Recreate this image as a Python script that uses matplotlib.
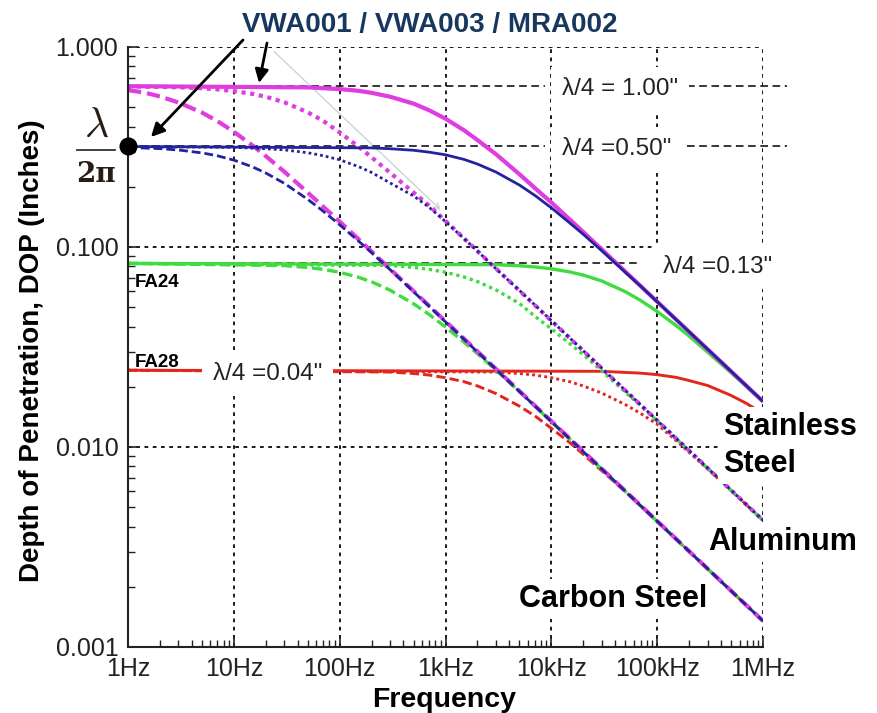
import matplotlib
matplotlib.use("Agg")
import matplotlib.pyplot as plt
from matplotlib.lines import Line2D
from matplotlib.patches import FancyArrowPatch
from matplotlib.ticker import NullFormatter

plt.rcParams["font.family"] = ["Liberation Sans", "DejaVu Sans"]
plt.rcParams["mathtext.fontset"] = "cm"

# ---------------------------------------------------------------- data
# quarter-wave sensor sizes (inches) and the plateau depth lambda/(2*pi)
quarter_wave = [1.00, 0.50, 0.13, 0.04]
quarter_labels = ['λ/4 = 1.00"', 'λ/4 =0.50"', 'λ/4 =0.13"', 'λ/4 =0.04"']

# Stainless steel (solid)
ss_mag_f = [1, 50, 100, 150, 200, 300, 500, 700, 1e3, 1.5e3, 2e3, 3e3, 5e3, 7e3, 1e4, 1.5e4, 2e4, 1e6]
ss_mag_v = [0.637, 0.628, 0.616, 0.604, 0.590, 0.564, 0.521, 0.483, 0.438, 0.383, 0.343, 0.291,
            0.231, 0.197, 0.167, 0.137, 0.119, 0.0169]
ss_blu_f = [1, 200, 300, 500, 700, 1e3, 1.5e3, 2e3, 3e3, 5e3, 7e3, 1e4, 1.5e4, 2e4, 3e4, 5e4, 7e4, 1e6]
ss_blu_v = [0.318, 0.313, 0.310, 0.3045, 0.298, 0.289, 0.274, 0.260, 0.237, 0.204, 0.181, 0.157,
            0.1316, 0.1158, 0.0957, 0.0747, 0.0636, 0.0169]
ss_grn_f = [1, 3e3, 5e3, 7e3, 1e4, 1.5e4, 2e4, 3e4, 5e4, 7e4, 1e5, 1.5e5, 2e5, 3e5, 5e5, 7e5, 1e6]
ss_grn_v = [0.0828, 0.0816, 0.0806, 0.0795, 0.0778, 0.0750, 0.0724, 0.0676, 0.0598, 0.0540,
            0.0476, 0.0406, 0.0359, 0.0298, 0.0235, 0.0200, 0.0168]
ss_red_f = [1, 3e4, 5e4, 7e4, 1e5, 1.5e5, 2e5, 3e5, 5e5, 7e5, 1e6]
ss_red_v = [0.0242, 0.0239, 0.0236, 0.0234, 0.0230, 0.0223, 0.0215, 0.0203, 0.0181, 0.0165, 0.0147]

# Aluminum (dotted)
al_mag_f = [1, 3, 5, 7, 10, 15, 20, 30, 50, 70, 100, 150, 200, 300, 500, 700, 1e3, 1e6]
al_mag_v = [0.635, 0.629, 0.622, 0.614, 0.602, 0.583, 0.564, 0.529, 0.471, 0.427, 0.374, 0.318,
            0.281, 0.235, 0.187, 0.161, 0.135, 0.0043]
al_blu_f = [1, 10, 20, 30, 50, 70, 100, 150, 200, 300, 500, 700, 1e3, 1.5e3, 2e3, 3e3, 5e3, 1e6]
al_blu_v = [0.318, 0.315, 0.310, 0.306, 0.296, 0.286, 0.273, 0.2525, 0.236, 0.209, 0.180, 0.158,
            0.134, 0.110, 0.0955, 0.0778, 0.0606, 0.0043]
al_grn_f = [1, 300, 500, 700, 1e3, 1.5e3, 2e3, 3e3, 5e3, 7e3, 1e4, 1.5e4, 2e4, 3e4, 5e4, 7e4, 1e6]
al_grn_v = [0.0828, 0.0808, 0.0791, 0.0773, 0.0748, 0.0708, 0.0672, 0.0610, 0.0522, 0.0450,
            0.0390, 0.0328, 0.0290, 0.0240, 0.0188, 0.0161, 0.0043]
al_red_f = [1, 3e3, 5e3, 7e3, 1e4, 1.5e4, 2e4, 3e4, 5e4, 7e4, 1e5, 1.5e5, 2e5, 3e5, 5e5, 1e6]
al_red_v = [0.0242, 0.0237, 0.0233, 0.0229, 0.0222, 0.0212, 0.0202, 0.0186, 0.0163, 0.0147,
            0.0130, 0.0108, 0.0094, 0.00776, 0.00605, 0.0043]

# Carbon steel (dashed)
cs_mag_f = [1, 1.5, 2, 3, 5, 7, 10, 15, 20, 30, 50, 70, 100, 150, 1e6]
cs_mag_v = [0.610, 0.588, 0.566, 0.528, 0.470, 0.426, 0.377, 0.322, 0.285, 0.238, 0.187, 0.159,
            0.134, 0.1097, 0.00135]
cs_blu_f = [1, 2, 3, 5, 7, 10, 15, 20, 30, 50, 70, 100, 150, 200, 300, 1e6]
cs_blu_v = [0.3147, 0.3103, 0.3055, 0.2955, 0.2858, 0.2719, 0.2516, 0.2346, 0.2081, 0.1730,
            0.1509, 0.1292, 0.1073, 0.0937, 0.0770, 0.00135]
cs_grn_f = [1, 30, 50, 70, 100, 150, 200, 300, 500, 700, 1e3, 1.5e3, 2e3, 3e3, 5e3, 1e6]
cs_grn_v = [0.0828, 0.0807, 0.0790, 0.0773, 0.0747, 0.0706, 0.0670, 0.0608, 0.0520, 0.0460,
            0.0398, 0.0334, 0.0293, 0.0242, 0.0189, 0.00135]
cs_red_f = [1, 300, 500, 700, 1e3, 1.5e3, 2e3, 3e3, 5e3, 7e3, 1e4, 1.5e4, 2e4, 3e4, 5e4, 1e6]
cs_red_v = [0.0242, 0.0237, 0.0233, 0.0229, 0.0222, 0.0212, 0.0202, 0.0185, 0.0160, 0.0143,
            0.0124, 0.0105, 0.0092, 0.0076, 0.00598, 0.00135]

x_ticks = [1, 10, 100, 1e3, 1e4, 1e5, 1e6]
x_tick_labels = ["1Hz", "10Hz", "100Hz", "1kHz", "10kHz", "100kHz", "1MHz"]
y_ticks = [0.001, 0.01, 0.1, 1.0]
y_tick_labels = ["0.001", "0.010", "0.100", "1.000"]

# ---------------------------------------------------------------- figure
W, H = 877, 713
fig = plt.figure(figsize=(W / 100, H / 100), dpi=100)
ax = fig.add_axes([128 / W, 1 - 647 / H, (763 - 128) / W, (647 - 47) / H])


def fpx(x, y):
    """top-left pixel position -> figure fraction"""
    return x / W, 1 - y / H


ax.set_xscale("log")
ax.set_yscale("log")
ax.set_xlim(1, 1e6)
ax.set_ylim(1e-3, 1.0)

for side in ("top", "right"):
    ax.spines[side].set_visible(False)
for side in ("left", "bottom"):
    ax.spines[side].set_linewidth(1.5)
    ax.spines[side].set_color("#222222")
    ax.spines[side].set_zorder(5)

ax.set_axisbelow(True)
ax.grid(True, which="major", color="#111111", lw=1.35, ls=(0, (2.0, 2.4)))
ax.grid(False, which="minor")

ax.set_xticks(x_ticks)
ax.set_xticklabels(x_tick_labels)
ax.set_yticks(y_ticks)
ax.set_yticklabels(y_tick_labels)
ax.xaxis.set_minor_formatter(NullFormatter())
ax.yaxis.set_minor_formatter(NullFormatter())
ax.tick_params(which="both", direction="in", top=False, right=False, colors="#222222")
ax.tick_params(which="major", length=8, width=1.2, labelsize=18)
ax.tick_params(which="minor", length=5, width=1.0)
ax.tick_params(axis="y", which="major", pad=7)
ax.tick_params(axis="x", which="major", pad=7)

# ---------------------------------------------------------------- reference dashes
plateau = [4 * q / (2 * 3.141592653589793) for q in quarter_wave]
ref_kw = dict(color="black", lw=1.1, ls=(0, (5, 3)), zorder=2, clip_on=False)
ax.plot([1, 8.7e3], [plateau[0]] * 2, **ref_kw)
ax.plot([1.9e5, 1.67e6], [plateau[0]] * 2, **ref_kw)
ax.plot([1, 8.7e3], [plateau[1]] * 2, **ref_kw)
ax.plot([1.9e5, 1.67e6], [plateau[1]] * 2, **ref_kw)
ax.plot([1, 6.4e4], [plateau[2]] * 2, **ref_kw)

# faint guide along the aluminum skin-depth slope
ax.annotate("", xy=(940, 0.15), xytext=(23, 0.97),
            arrowprops=dict(arrowstyle="->", color="#c3d2d6", lw=0.9), zorder=1)

# ---------------------------------------------------------------- curves
C_MAG, C_BLU, C_GRN, C_RED = "#e03de0", "#23239f", "#3fdc3f", "#e2261e"
LW = {C_RED: 2.1, C_GRN: 2.4, C_MAG: 3.0, C_BLU: 2.0}
SOLID = "-"
DOTTED = (0, (1.0, 1.1))
DASHED = (0, (3.2, 1.4))

series = [
    (ss_red_f, ss_red_v, C_RED, SOLID), (ss_grn_f, ss_grn_v, C_GRN, SOLID),
    (al_red_f, al_red_v, C_RED, DOTTED), (al_grn_f, al_grn_v, C_GRN, DOTTED),
    (cs_red_f, cs_red_v, C_RED, DASHED), (cs_grn_f, cs_grn_v, C_GRN, DASHED),
    (ss_mag_f, ss_mag_v, C_MAG, SOLID), (al_mag_f, al_mag_v, C_MAG, DOTTED),
    (cs_mag_f, cs_mag_v, C_MAG, DASHED),
    (ss_blu_f, ss_blu_v, C_BLU, SOLID), (al_blu_f, al_blu_v, C_BLU, DOTTED),
    (cs_blu_f, cs_blu_v, C_BLU, DASHED),
]
for f, v, c, ls in series:
    ax.plot(f, v, color=c, lw=LW[c], ls=ls, zorder=3, solid_capstyle="butt")

# lambda / 2pi marker on the left axis
ax.plot([1], [plateau[1]], "o", ms=12, color="black", clip_on=False, zorder=7)

# ---------------------------------------------------------------- annotations
fig.text(*fpx(430, 32), "VWA001 / VWA003 / MRA002", ha="center", va="baseline",
         fontsize=20, weight="bold", color="#17375e")

arrow_kw = dict(arrowstyle="-|>", color="black", lw=2.0, mutation_scale=20,
                shrinkA=0, shrinkB=0)
fig.add_artist(FancyArrowPatch(fpx(243, 40), fpx(151, 137),
                               transform=fig.transFigure, **arrow_kw))
fig.add_artist(FancyArrowPatch(fpx(267, 43), fpx(259, 83),
                               transform=fig.transFigure, **arrow_kw))

fig.text(*fpx(96, 126), r"$\lambda$", ha="center", va="center", fontsize=30, color="#2a1c14")
fig.add_artist(Line2D([77 / W, 115 / W], [1 - 150 / H, 1 - 150 / H],
                      transform=fig.transFigure, color="#333333", lw=1.3))
fig.text(*fpx(96, 174), "2π", ha="center", va="center", fontsize=20,
         family="DejaVu Serif", weight="bold", color="#2a1c14")

box_q = dict(boxstyle="square,pad=0.45", fc="white", ec="none")
lab_pos = [(562, 95), (562, 155), (663, 273), (213, 380)]
for (x, y), t in zip(lab_pos, quarter_labels):
    fig.text(*fpx(x, y), t, ha="left", va="baseline", fontsize=17.5,
             color="#222222", bbox=box_q, zorder=6)

fig.text(*fpx(135, 287), "FA24", ha="left", va="baseline", fontsize=13.5, weight="bold")
fig.text(*fpx(135, 367), "FA28", ha="left", va="baseline", fontsize=13.5, weight="bold")

box_m = dict(boxstyle="square,pad=0.15", fc="white", ec="none")
for x, y, t in [(723, 435, "Stainless"), (723, 472, "Steel"),
                (708, 550, "Aluminum"), (519, 607, "Carbon Steel")]:
    fig.text(*fpx(x, y), t, ha="left", va="baseline", fontsize=22, weight="bold",
             color="black", bbox=box_m, zorder=6)

fig.text(*fpx(32, 351), "Depth of Penetration, DOP (Inches)", rotation=90,
         ha="center", va="center", fontsize=20, weight="bold")
fig.text(*fpx(444, 707), "Frequency", ha="center", va="baseline", fontsize=20.5,
         weight="bold")

fig.savefig("out.png", dpi=100, facecolor="white")
